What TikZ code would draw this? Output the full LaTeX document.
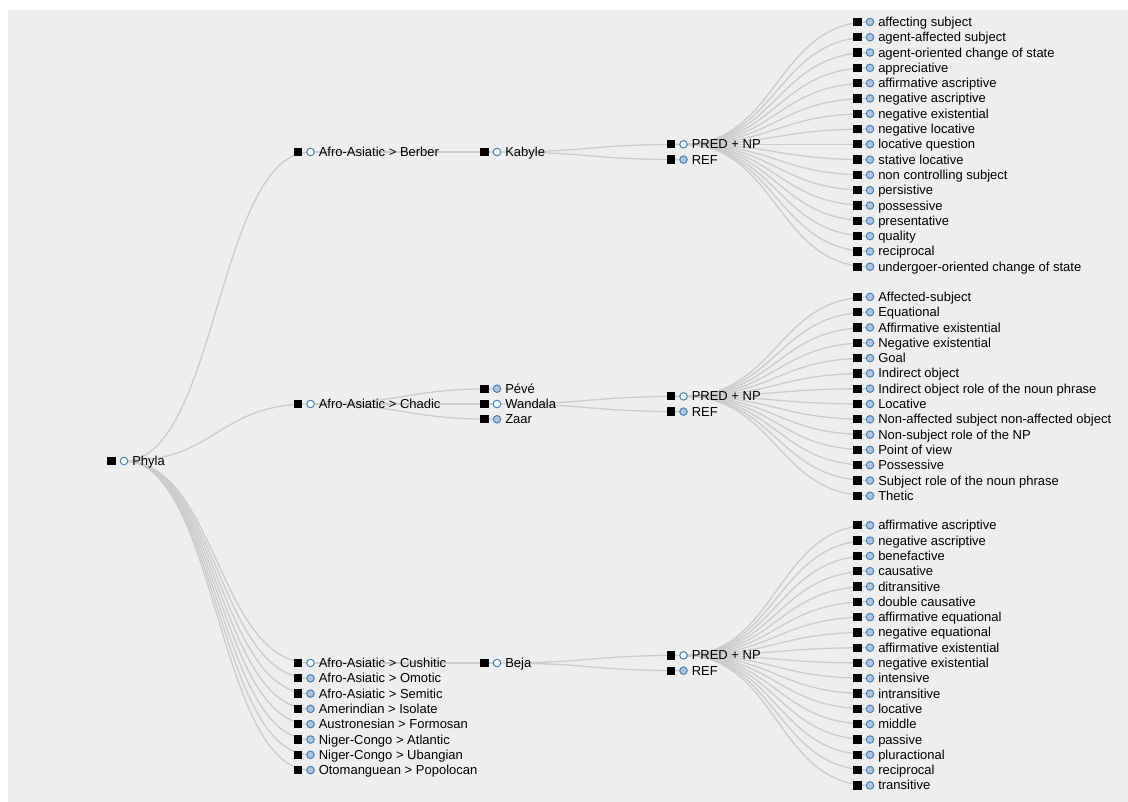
\documentclass[tikz,border=0pt]{standalone}
\usepackage{fontspec}
\setmainfont{Liberation Sans}

\definecolor{bggray}{HTML}{EEEEEE}
\definecolor{linkgray}{HTML}{CCCCCC}
\definecolor{steelblue}{HTML}{4682B4}
\definecolor{lightsteel}{HTML}{B0C4DE}

\pgfdeclarelayer{back}
\pgfdeclarelayer{links}
\pgfsetlayers{back,links,main}

\tikzset{
  tn/.style={circle, draw=steelblue, line width=1pt, fill=white, minimum size=7.5pt, inner sep=0pt,
    label={[sq]180:}, label={[lbl]0:#1}},
  closed/.style={fill=lightsteel},
  sq/.style={fill=black, minimum size=8.3pt, inner sep=0pt, outer sep=0pt, label distance=4pt},
  lbl/.style={inner sep=0pt, outer sep=0pt, label distance=4pt, text height=12.1pt, text depth=3pt,
    font=\fontsize{13}{15}\selectfont},
  link/.style={draw=linkgray, line width=1.3pt,
    to path={.. controls +(93.25,0) and +(-93.25,0) .. (\tikztotarget)}}
}

\begin{document}
\begin{tikzpicture}[x=1pt,y=-1pt]
  \useasboundingbox (0,0) rectangle (1128,802);
  \begin{pgfonlayer}{back}
    \fill[bggray] (8,10) rectangle (1128,802);
  \end{pgfonlayer}

  % root and phyla
  \node[tn=Phyla] (phyla) at (124,461) {};
  \node[tn={Afro-Asiatic > Berber}] (berber) at (310.5,152) {};
  \node[tn={Afro-Asiatic > Chadic}] (chadic) at (310.5,404) {};
  \node[tn={Afro-Asiatic > Cushitic}] (cushitic) at (310.5,663) {};
  \foreach \n/\t [count=\i] in {omotic/Afro-Asiatic > Omotic, semitic/Afro-Asiatic > Semitic,
      isolate/Amerindian > Isolate, formosan/Austronesian > Formosan, atlantic/Niger-Congo > Atlantic,
      ubangian/Niger-Congo > Ubangian, popolocan/Otomanguean > Popolocan}
    \node[tn=\t, closed] (\n) at (310.5,{663+\i*15.3}) {};

  % languages
  \node[tn=Kabyle] (kabyle) at (497,152) {};
  \node[tn=Pévé, closed] (peve) at (497,388.7) {};
  \node[tn=Wandala] (wandala) at (497,404) {};
  \node[tn=Zaar, closed] (zaar) at (497,419.3) {};
  \node[tn=Beja] (beja) at (497,663) {};

  % constructions
  \node[tn={PRED + NP}] (predA) at (683.5,144.35) {};
  \node[tn=REF, closed] (refA) at (683.5,159.65) {};
  \node[tn={PRED + NP}] (predB) at (683.5,396.35) {};
  \node[tn=REF, closed] (refB) at (683.5,411.65) {};
  \node[tn={PRED + NP}] (predC) at (683.5,655.35) {};
  \node[tn=REF, closed] (refC) at (683.5,670.65) {};

  % functions
  \foreach \t [count=\i] in {affecting subject, agent-affected subject, agent-oriented change of state,
      appreciative, affirmative ascriptive, negative ascriptive, negative existential, negative locative,
      locative question, stative locative, non controlling subject, persistive, possessive, presentative,
      quality, reciprocal, undergoer-oriented change of state}
    \node[tn=\t, closed] (a\i) at (870,{144.35+(\i-9)*15.3}) {};
  \foreach \t [count=\i] in {Affected-subject, Equational, Affirmative existential, Negative existential,
      Goal, Indirect object, Indirect object role of the noun phrase, Locative,
      Non-affected subject non-affected object, Non-subject role of the NP, Point of view, Possessive,
      Subject role of the noun phrase, Thetic}
    \node[tn=\t, closed] (b\i) at (870,{396.35+(\i-7.5)*15.3}) {};
  \foreach \t [count=\i] in {affirmative ascriptive, negative ascriptive, benefactive, causative,
      ditransitive, double causative, affirmative equational, negative equational, affirmative existential,
      negative existential, intensive, intransitive, locative, middle, passive, pluractional, reciprocal,
      transitive}
    \node[tn=\t, closed] (c\i) at (870,{655.35+(\i-9.5)*15.3}) {};

  \begin{pgfonlayer}{links}
    \foreach \c in {berber,chadic,cushitic,omotic,semitic,isolate,formosan,atlantic,ubangian,popolocan}
      \draw[link] (phyla.center) to (\c.center);
    \draw[link] (berber.center) to (kabyle.center);
    \foreach \c in {peve,wandala,zaar}
      \draw[link] (chadic.center) to (\c.center);
    \draw[link] (cushitic.center) to (beja.center);
    \draw[link] (kabyle.center) to (predA.center) (kabyle.center) to (refA.center);
    \draw[link] (wandala.center) to (predB.center) (wandala.center) to (refB.center);
    \draw[link] (beja.center) to (predC.center) (beja.center) to (refC.center);
    \foreach \i in {1,...,17}
      \draw[link] (predA.center) to (a\i.center);
    \foreach \i in {1,...,14}
      \draw[link] (predB.center) to (b\i.center);
    \foreach \i in {1,...,18}
      \draw[link] (predC.center) to (c\i.center);
  \end{pgfonlayer}
\end{tikzpicture}
\end{document}
